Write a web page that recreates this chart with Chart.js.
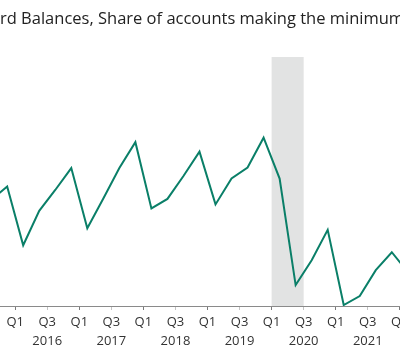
<!DOCTYPE html>
<html>
<head>
<meta charset="utf-8">
<script src="https://cdn.jsdelivr.net/npm/chart.js@4"></script>
<style>
  html, body { margin: 0; padding: 0; background: #fff; overflow: hidden; width: 400px; height: 355px; }
  #wrap { position: absolute; left: -100px; top: 0; width: 615px; height: 355px; }
</style>
</head>
<body>
<div id="wrap"><canvas id="c" width="615" height="355"></canvas></div>
<script>
// ---- data ----
const titleText = "Credit Card Balances, Share of accounts making the minimum payment";
const quarters = [
  "2015Q3","2015Q4",
  "2016Q1","2016Q2","2016Q3","2016Q4",
  "2017Q1","2017Q2","2017Q3","2017Q4",
  "2018Q1","2018Q2","2018Q3","2018Q4",
  "2019Q1","2019Q2","2019Q3","2019Q4",
  "2020Q1","2020Q2","2020Q3","2020Q4",
  "2021Q1","2021Q2","2021Q3","2021Q4",
  "2022Q1"
];
const shareMinPayment = [
  10.13, 10.40,
  9.22, 9.91, 10.33, 10.77,
  9.56, 10.16, 10.77, 11.29,
  9.96, 10.15, 10.61, 11.10,
  10.04, 10.56, 10.78, 11.38,
  10.56, 8.42, 8.92, 9.53,
  8.02, 8.20, 8.72, 9.08,
  8.68
];
const recessionStart = "2020Q1";
const recessionEnd = "2020Q3";
const baseYear = 2016;

// quarter string -> axis position (quarters since 2016Q1 start)
function qStart(s) {
  const y = parseInt(s.slice(0, 4), 10);
  const q = parseInt(s.slice(5), 10);
  return (y - baseYear) * 4 + (q - 1);
}
const points = quarters.map((s, i) => ({ x: qStart(s) + 0.5, y: shareMinPayment[i] }));

function tickLabel(v) {
  const q = ((v % 4) + 4) % 4;
  const yr = baseYear + Math.floor(v / 4);
  if (q === 0) return "Q1";
  if (q === 2) return ["Q3", String(yr)];
  return "";
}

const shadePlugin = {
  id: "shade",
  beforeDatasetsDraw(chart) {
    const { ctx, chartArea, scales } = chart;
    const x0 = scales.x.getPixelForValue(qStart(recessionStart));
    const x1 = scales.x.getPixelForValue(qStart(recessionEnd));
    ctx.save();
    ctx.fillStyle = "#e2e3e3";
    ctx.fillRect(x0, chartArea.top, x1 - x0, chartArea.bottom - chartArea.top);
    ctx.restore();
  }
};

const titlePlugin = {
  id: "ttl",
  afterDraw(chart) {
    const ctx = chart.ctx;
    ctx.save();
    ctx.font = '16.5px "Open Sans"';
    ctx.fillStyle = "#222";
    ctx.textBaseline = "alphabetic";
    const pre = ctx.measureText("Credit Ca").width;
    ctx.fillText(titleText, 100 - pre, 24);
    ctx.restore();
  }
};

new Chart(document.getElementById("c"), {
  type: "line",
  data: {
    datasets: [{
      data: points,
      borderColor: "#0a7f68",
      borderWidth: 2,
      pointRadius: 0,
      tension: 0,
      fill: false
    }]
  },
  options: {
    responsive: false,
    animation: false,
    events: [],
    layout: { padding: { top: 57, left: 1.44, right: 2.52, bottom: 0 } },
    plugins: { legend: { display: false }, title: { display: false }, tooltip: { enabled: false } },
    scales: {
      x: {
        type: "linear",
        min: -7,
        max: 31,
        afterFit(s) { s.height = 49; },
        border: { display: true, color: "#8a8a8a", width: 1 },
        grid: {
          drawOnChartArea: false,
          drawTicks: true,
          tickLength: 4,
          tickWidth: 1,
          tickColor(ctx) {
            const v = ctx.tick ? ctx.tick.value : 0;
            const q = ((v % 4) + 4) % 4;
            if (q === 0) return "#7a7a7a";
            if (q === 2) return "#c4c4c4";
            return "rgba(0,0,0,0)";
          }
        },
        ticks: {
          stepSize: 1,
          autoSkip: false,
          maxRotation: 0,
          padding: 3,
          color: "#333",
          font: { family: '"Open Sans"', size: 13, lineHeight: 1.46 },
          callback: (v) => tickLabel(v)
        }
      },
      y: {
        display: false,
        min: 8,
        max: 13
      }
    }
  },
  plugins: [shadePlugin, titlePlugin]
});
</script>
</body>
</html>
